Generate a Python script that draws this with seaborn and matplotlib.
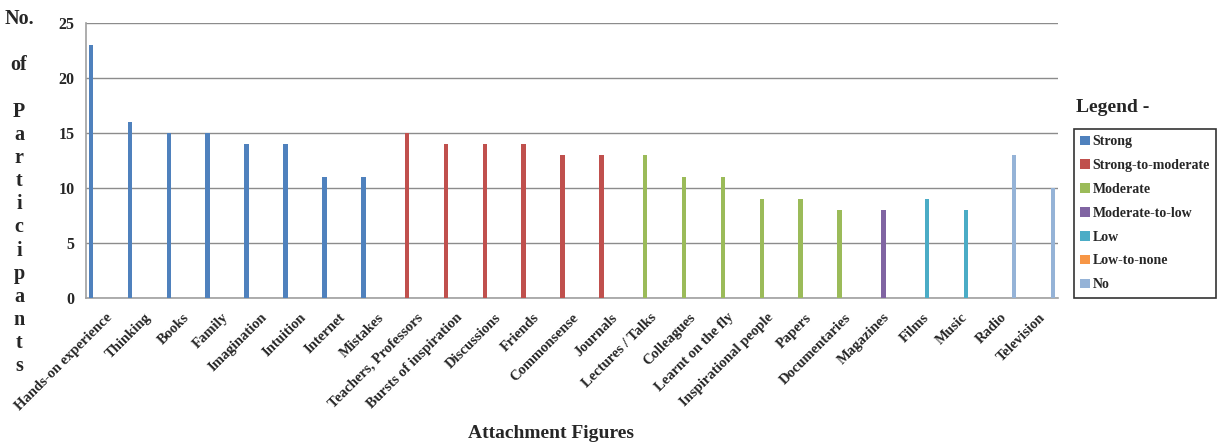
import matplotlib
matplotlib.use("Agg")
import matplotlib.pyplot as plt
from matplotlib.patches import Patch
import seaborn as sns
import pandas as pd

# Attachment figures and number of participants naming each one
categories = ["Hands-on experience", "Thinking", "Books", "Family", "Imagination",
              "Intuition", "Internet", "Mistakes", "Teachers, Professors",
              "Bursts of inspiration", "Discussions", "Friends", "Commonsense",
              "Journals", "Lectures / Talks", "Colleagues", "Learnt on the fly",
              "Inspirational people", "Papers", "Documentaries", "Magazines",
              "Films", "Music", "Radio", "Television"]
participants = [23, 16, 15, 15, 14, 14, 11, 11, 15,
                14, 14, 14, 13, 13, 13, 11, 11, 9, 9, 8, 8,
                9, 8, 13, 10]
strength = (["Strong"] * 8 + ["Strong-to-moderate"] * 6 + ["Moderate"] * 6
            + ["Moderate-to-low"] + ["Low"] * 2 + ["No"] * 2)

levels = ["Strong", "Strong-to-moderate", "Moderate", "Moderate-to-low",
          "Low", "Low-to-none", "No"]
level_colors = ["#4F81BD", "#C0504D", "#9BBB59", "#8064A2",
                "#4BACC6", "#F79646", "#95B3D7"]

df = pd.DataFrame({"figure": categories, "count": participants,
                   "strength": strength})

sns.set_style("white")
plt.rcParams["font.family"] = ["Liberation Serif", "DejaVu Serif"]
plt.rcParams["font.weight"] = "bold"

fig = plt.figure(figsize=(12.19, 4.43), dpi=100)
ax = fig.add_axes([0.0703, 0.3266, 0.7979, 0.6222])

palette = dict(zip(levels, level_colors))
sns.barplot(data=df, x="figure", y="count", hue="strength", hue_order=levels,
            order=categories, palette=palette, dodge=True, width=0.85, gap=0.05,
            saturation=1, legend=False, ax=ax, zorder=3, linewidth=0)

n = len(categories)
ax.set_xlim(-0.5, n - 0.5)
ax.set_ylim(0, 25)
ax.set_yticks([0, 5, 10, 15, 20, 25])
ax.yaxis.grid(True, color="#8c8c8c", linewidth=1.0, zorder=0)
ax.set_axisbelow(True)

for side in ["top", "right"]:
    ax.spines[side].set_visible(False)
for side in ["left", "bottom"]:
    ax.spines[side].set_color("#a0a0a0")
    ax.spines[side].set_linewidth(1.2)

ax.set_xticks(range(n))
ax.set_xticklabels(categories, rotation=45, ha="right", va="top",
                   rotation_mode="anchor", fontsize=10.5, fontweight="bold")
ax.tick_params(axis="x", which="major", length=0, pad=9)
ax.set_xticks([k - 0.5 for k in range(n + 1)], minor=True)
ax.tick_params(axis="x", which="minor", length=5, color="#a0a0a0", width=1)
ax.tick_params(axis="y", length=5, color="#a0a0a0", width=1, pad=3,
               labelsize=11.5)
for t in ax.get_yticklabels():
    t.set_fontweight("bold")

ax.set_xlabel("")
ax.set_ylabel("")

# Axis titles
fig.text(551 / 1219, 1 - 433 / 443, "Attachment Figures", ha="center",
         va="center", fontsize=14, fontweight="bold")
ylabel = "No.\n\nof\n\n" + "\n".join("Participants")
fig.text(19 / 1219, 1 - 9 / 443, ylabel, ha="center", va="top",
         multialignment="center", fontsize=14.5, fontweight="bold",
         linespacing=1.21)

# Legend
fig.text(1076 / 1219, 1 - 108 / 443, "Legend -", ha="left", va="center",
         fontsize=14, fontweight="bold")
handles = [Patch(facecolor=c, edgecolor="none", label=l)
           for l, c in zip(levels, level_colors)]
leg = fig.legend(handles=handles, loc="upper left",
                 bbox_to_anchor=(1074 / 1219, 1 - 129 / 443),
                 borderaxespad=0, frameon=True, fancybox=False,
                 prop={"family": "Liberation Serif", "weight": "bold", "size": 10},
                 handlelength=0.7, handleheight=0.7, handletextpad=0.2,
                 labelspacing=0.78, borderpad=0.45)
frame = leg.get_frame()
frame.set_edgecolor("black")
frame.set_linewidth(1.2)

fig.savefig("out.png", dpi=100)
